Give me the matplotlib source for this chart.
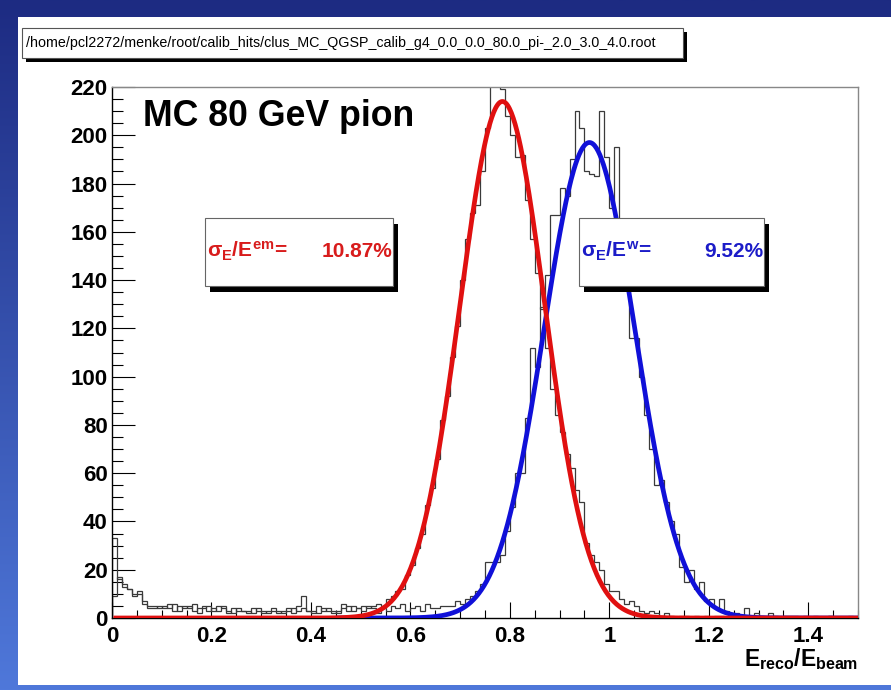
import numpy as np
import matplotlib
matplotlib.use("Agg")
import matplotlib.pyplot as plt
from matplotlib.patches import Rectangle
from matplotlib.colors import LinearSegmentedColormap
from matplotlib.ticker import MultipleLocator

plt.rcParams['font.family'] = ['Liberation Sans', 'DejaVu Sans']
plt.rcParams['mathtext.fontset'] = 'custom'
plt.rcParams['mathtext.rm'] = 'Liberation Sans:bold'
plt.rcParams['mathtext.it'] = 'Liberation Sans:bold'
plt.rcParams['mathtext.bf'] = 'Liberation Sans:bold'

# histogram binning: 150 bins on E_reco/E_beam in [0, 1.5]
x_min, x_max, n_bins = 0.0, 1.5, 150

# counts per bin, em-scale reconstruction (red fit)
counts_em = [
    33, 16, 14, 12, 10, 11, 6, 5, 5, 4,
    5, 4, 6, 3, 5, 4, 6, 2, 4, 5,
    3, 5, 4, 2, 4, 3, 3, 2, 4, 3,
    2, 3, 3, 2, 3, 4, 2, 5, 9, 3,
    2, 5, 3, 4, 2, 3, 6, 3, 5, 4,
    5, 4, 5, 6, 5, 8, 9, 11, 12, 18,
    22, 29, 35, 47, 54, 66, 82, 92, 108, 121,
    140, 157, 168, 171, 185, 203, 228, 224, 219, 208,
    200, 191, 192, 173, 157, 143, 128, 112, 95, 84,
    77, 68, 62, 53, 48, 31, 26, 23, 20, 14,
    11, 11, 8, 6, 7, 5, 3, 2, 3, 2,
    1, 2, 1, 0, 1, 1, 0, 1, 0, 1,
    0, 1, 1, 0, 0, 1, 0, 0, 1, 0,
    0, 0, 1, 0, 0, 0, 1, 0, 0, 0,
    0, 0, 0, 0, 1, 0, 0, 0, 0, 0,
]

# counts per bin, weighted reconstruction (blue fit)
counts_w = [
    9, 17, 13, 12, 9, 10, 7, 4, 4, 5,
    4, 6, 3, 5, 4, 5, 3, 4, 5, 3,
    4, 3, 5, 3, 2, 4, 3, 3, 2, 4,
    3, 2, 4, 3, 2, 3, 4, 3, 4, 3,
    3, 2, 4, 3, 3, 2, 4, 5, 3, 4,
    3, 5, 4, 2, 4, 3, 5, 4, 6, 3,
    4, 5, 3, 6, 4, 4, 5, 5, 5, 7,
    6, 8, 9, 11, 14, 23, 23, 23, 26, 36,
    46, 60, 60, 83, 112, 104, 129, 142, 167, 167,
    178, 175, 190, 210, 203, 185, 184, 183, 210, 191,
    170, 195, 152, 140, 116, 116, 100, 84, 70, 55,
    57, 48, 40, 35, 21, 15, 20, 12, 15, 7,
    8, 4, 8, 3, 2, 2, 1, 4, 1, 2,
    1, 0, 2, 1, 0, 1, 0, 1, 0, 1,
    0, 1, 0, 0, 1, 0, 0, 0, 1, 0,
]

# gaussian fit parameters: amplitude, mean, sigma
fit_em = (214.0, 0.785, 0.0853)
fit_w = (197.0, 0.960, 0.0914)

title_text = "/home/pcl2272/menke/root/calib_hits/clus_MC_QGSP_calib_g4_0.0_0.0_80.0_pi-_2.0_3.0_4.0.root"
label_em = r"$\sigma_{E}/E^{em}$="
value_em = "10.87%"
label_w = r"$\sigma_{E}/E^{w}$="
value_w = "9.52%"


def gauss(x, amp, mu, sig):
    return amp * np.exp(-0.5 * ((x - mu) / sig) ** 2)


W, H = 891, 690
fig = plt.figure(figsize=(W / 100, H / 100), dpi=100)

# blue frame + white canvas
bg = fig.add_axes([0, 0, 1, 1], zorder=-5)
cmap = LinearSegmentedColormap.from_list("frame", ["#4f78da", "#1d2b82"])
bg.imshow(np.linspace(0, 1, 256).reshape(-1, 1)[::-1], extent=[0, 1, 0, 1],
          aspect='auto', cmap=cmap)
bg.add_patch(Rectangle((18 / W, 5 / H), 1 - 18 / W, (H - 17 - 5) / H,
                       facecolor='white', edgecolor='none'))
bg.set_xlim(0, 1)
bg.set_ylim(0, 1)
bg.set_axis_off()

# title pave with shadow
bg.add_patch(Rectangle((26 / W, 1 - 62 / H), 661 / W, 30 / H,
                       facecolor='black', edgecolor='none'))
bg.add_patch(Rectangle((22 / W, 1 - 58 / H), 661 / W, 30 / H,
                       facecolor='white', edgecolor='#555555', linewidth=0.8))
bg.text(26 / W, 1 - 43 / H, title_text, fontsize=10.3, va='center', ha='left')

# main axes
ax = fig.add_axes([112 / W, 72 / H, 746 / W, 531 / H])
edges = np.linspace(x_min, x_max, n_bins + 1)
ax.stairs(counts_em, edges, color='#3a3a3a', linewidth=0.9, zorder=2)
ax.stairs(counts_w, edges, color='#3a3a3a', linewidth=0.9, zorder=2)

xs_w = np.linspace(0.45, x_max, 600)
ax.plot(xs_w, gauss(xs_w, *fit_w), color='#1010d8', linewidth=3.4, zorder=3,
        solid_capstyle='butt')
xs_em = np.linspace(x_min + 0.003, x_max, 800)
ax.plot(xs_em, gauss(xs_em, *fit_em), color='#e01010', linewidth=3.4, zorder=4,
        solid_capstyle='butt')

ax.set_xlim(x_min, x_max)
ax.set_ylim(0, 220)
ax.xaxis.set_major_locator(MultipleLocator(0.2))
ax.xaxis.set_minor_locator(MultipleLocator(0.05))
ax.yaxis.set_major_locator(MultipleLocator(20))
ax.yaxis.set_minor_locator(MultipleLocator(5))
ax.set_xticks(np.arange(0, 1.41, 0.2))
ax.set_xticklabels(['0', '0.2', '0.4', '0.6', '0.8', '1', '1.2', '1.4'])

ax.tick_params(axis='y', which='major', direction='in', length=16.5, width=0.8,
               pad=3, labelsize=16)
ax.tick_params(axis='y', which='minor', direction='in', length=8, width=0.8)
ax.tick_params(axis='x', which='major', direction='in', length=11.5, width=0.8,
               pad=6, labelsize=16)
ax.tick_params(axis='x', which='minor', direction='in', length=5.8, width=0.8)
for lab in ax.get_xticklabels() + ax.get_yticklabels():
    lab.set_fontweight('bold')

for side in ['top', 'right']:
    ax.spines[side].set_color('#888888')
    ax.spines[side].set_linewidth(1.0)
for side in ['left', 'bottom']:
    ax.spines[side].set_color('black')
    ax.spines[side].set_linewidth(1.0)

ax.text(1.0, -0.09, r"$E_{reco}/E_{beam}$", transform=ax.transAxes,
        ha='right', va='baseline', fontsize=16.5)

ax.text(0.0416, 0.9266, "MC 80 GeV pion", transform=ax.transAxes,
        ha='left', va='baseline', fontsize=25.7, fontweight='bold', zorder=6)


def pave(x0, x1, label, value, color):
    px = 1 / 746
    py = 1 / 531
    y0, y1 = 0.6252, 0.7533
    ax.add_patch(Rectangle((x0 + 5 * px, y0 - 6 * py), x1 - x0, y1 - y0,
                           transform=ax.transAxes, facecolor='black',
                           edgecolor='none', zorder=7))
    ax.add_patch(Rectangle((x0, y0), x1 - x0, y1 - y0, transform=ax.transAxes,
                           facecolor='white', edgecolor='#666666',
                           linewidth=0.8, zorder=8))
    ax.text(x0 + 2 * px, 0.68, label, transform=ax.transAxes, color=color,
            ha='left', va='baseline', fontsize=15, fontweight='bold', zorder=9)
    ax.text(x1 - 1 * px, 0.68, value, transform=ax.transAxes, color=color,
            ha='right', va='baseline', fontsize=15, fontweight='bold', zorder=9)


pave(0.1247, 0.3767, label_em, value_em, '#d81c1c')
pave(0.626, 0.874, label_w, value_w, '#1c1cc8')

fig.savefig("out.png", dpi=100)
